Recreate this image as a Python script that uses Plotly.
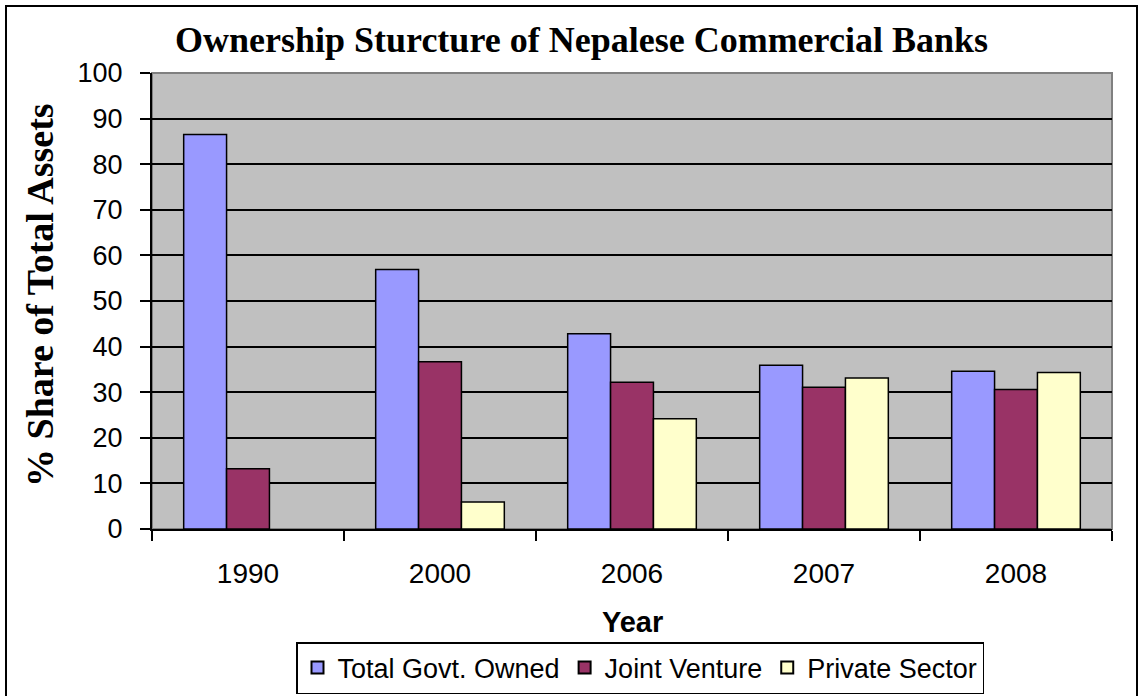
import plotly.graph_objects as go

years = ["1990", "2000", "2006", "2007", "2008"]
govt = [86.5, 56.9, 42.8, 35.9, 34.6]
joint = [13.2, 36.7, 32.2, 31.1, 30.6]
private = [0, 5.9, 24.2, 33.1, 34.3]
series_names = ["Total Govt. Owned", "Joint Venture", "Private Sector"]
colors = ["#9999FF", "#993366", "#FFFFCC"]

fig = go.Figure()
for name, vals, col in zip(series_names, [govt, joint, private], colors):
    widths = [1.5 if v > 0 else 0 for v in vals]
    fig.add_trace(go.Bar(x=years, y=vals, name=name,
                         marker=dict(color=col, line=dict(color="black", width=widths))))

L, R, T, B = 152, 27, 73, 167
W, H = 1139, 696
pw, ph = W - L - R, H - T - B

def px(x):
    return (x - L) / pw

def py(y):
    return (H - B - y) / ph

fig.update_layout(
    width=W, height=H,
    margin=dict(l=L, r=R, t=T, b=B, autoexpand=False),
    paper_bgcolor="white",
    plot_bgcolor="#C0C0C0",
    barmode="group",
    bargap=0.33,
    bargroupgap=0,
    showlegend=True,
    legend=dict(orientation="h", x=px(640), xanchor="center", y=py(642), yanchor="top",
                font=dict(family="Liberation Sans, Arial", size=27, color="black"),
                bordercolor="black", borderwidth=1.5, bgcolor="white",
                itemsizing="constant", traceorder="normal", itemwidth=30,
                tracegroupgap=0),
    xaxis=dict(showline=True, linecolor="black", linewidth=2, ticks="outside",
               tickson="boundaries", ticklen=10, tickwidth=1.5, tickcolor="black",
               ticklabelstandoff=18,
               tickfont=dict(family="Liberation Sans, Arial", size=28, color="black"),
               showgrid=False, mirror=False),
    yaxis=dict(range=[0, 100], dtick=10, showline=True, linecolor="black", linewidth=2,
               ticks="outside", ticklen=10, tickwidth=1.5, tickcolor="black",
               ticklabelstandoff=12,
               tickfont=dict(family="Liberation Sans, Arial", size=27, color="black"),
               showgrid=True, gridcolor="black", gridwidth=2, zeroline=False),
    font=dict(family="Liberation Sans, Arial", color="black"),
)

# plot area border (top/right gray)
fig.add_shape(type="rect", xref="paper", yref="paper", x0=0, x1=1, y0=0, y1=1,
              line=dict(color="#808080", width=2), layer="below")

# outer frame
fig.add_shape(type="rect", xref="paper", yref="paper",
              x0=px(6), x1=px(1137), y0=py(705), y1=py(6),
              line=dict(color="black", width=2))

fig.add_annotation(text="<b>Ownership Sturcture of Nepalese Commercial Banks</b>",
                   xref="paper", yref="paper", x=px(581), y=py(40),
                   xanchor="center", yanchor="middle", showarrow=False,
                   font=dict(family="Liberation Serif, Times New Roman", size=36, color="black"))
fig.add_annotation(text="<b>% Share of Total Assets</b>",
                   xref="paper", yref="paper", x=px(40), y=py(295),
                   xanchor="center", yanchor="middle", showarrow=False, textangle=-90,
                   font=dict(family="Liberation Serif, Times New Roman", size=38, color="black"))
fig.add_annotation(text="<b>Year</b>",
                   xref="paper", yref="paper", x=px(632), y=py(622),
                   xanchor="center", yanchor="middle", showarrow=False,
                   font=dict(family="Liberation Sans, Arial", size=29, color="black"))

fig.write_html("out.html")
